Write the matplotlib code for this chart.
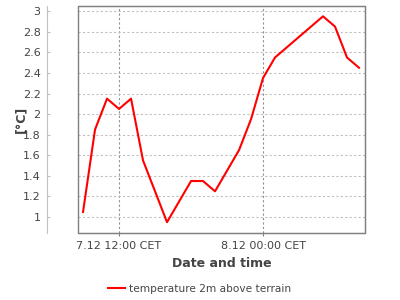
import matplotlib.pyplot as plt
from matplotlib.patches import Rectangle

# hours since 7.12 00:00 CET and temperature
hours = [9, 10, 11, 12, 13, 14, 16, 18, 19, 20, 22, 23, 24, 25, 29, 30, 31, 32]
temps = [1.05, 1.85, 2.15, 2.05, 2.15, 1.55, 0.95, 1.35, 1.35, 1.25,
         1.65, 1.95, 2.35, 2.55, 2.95, 2.85, 2.55, 2.45]

tick_hours = [12, 24]
tick_labels = ["7.12 12:00 CET", "8.12 00:00 CET"]
y_ticks = [1, 1.2, 1.4, 1.6, 1.8, 2, 2.2, 2.4, 2.6, 2.8, 3]

text_col = "#444444"

fig = plt.figure(figsize=(4, 3), dpi=100)
ax = fig.add_axes([0.195, 0.2233, 0.7175, 0.7567])

ax.plot(hours, temps, color="#ff0000", lw=1.5, label="temperature 2m above terrain")

ax.set_xlim(8.58, 32.5)
ax.set_ylim(0.845, 3.05)

ax.set_xticks(tick_hours)
ax.set_xticklabels(tick_labels)
ax.set_yticks(y_ticks)
ax.set_yticklabels([f"{v:g}" for v in y_ticks])

# grid: light dashed horizontals, darker dashed verticals
ax.yaxis.grid(True, ls=(0, (2, 2)), color="#c0c0c0", lw=0.8)
ax.xaxis.grid(True, ls=(0, (2, 2)), color="#909090", lw=0.8)

for s in ["top", "right", "bottom"]:
    ax.spines[s].set_color("#808080")
ax.spines["left"].set_position(("outward", 22))
ax.spines["left"].set_color("#c0c0c0")
ax.add_patch(Rectangle((0, 0), 1, 1, transform=ax.transAxes, fill=False,
                       ec="#808080", lw=1, clip_on=False, zorder=3))

ax.tick_params(axis="y", direction="in", length=2, color="#c0c0c0",
               labelsize=8, labelcolor=text_col, pad=5)
ax.tick_params(axis="x", direction="out", length=2, color="#808080",
               labelsize=8, labelcolor=text_col, pad=4)

ax.set_xlabel("Date and time", fontsize=9, fontweight="bold", color=text_col)
ax.xaxis.set_label_coords(0.5, -0.106)
ax.set_ylabel("[°C]", fontsize=9, fontweight="bold", color=text_col)
ax.yaxis.set_label_coords(-0.178, 0.5)

fig.legend(loc="center", bbox_to_anchor=(0.5, 1 - 289 / 300), frameon=False,
           fontsize=7.6, labelcolor=text_col, handlelength=1.6, handletextpad=0.4)

fig.savefig("out.png", dpi=100)
